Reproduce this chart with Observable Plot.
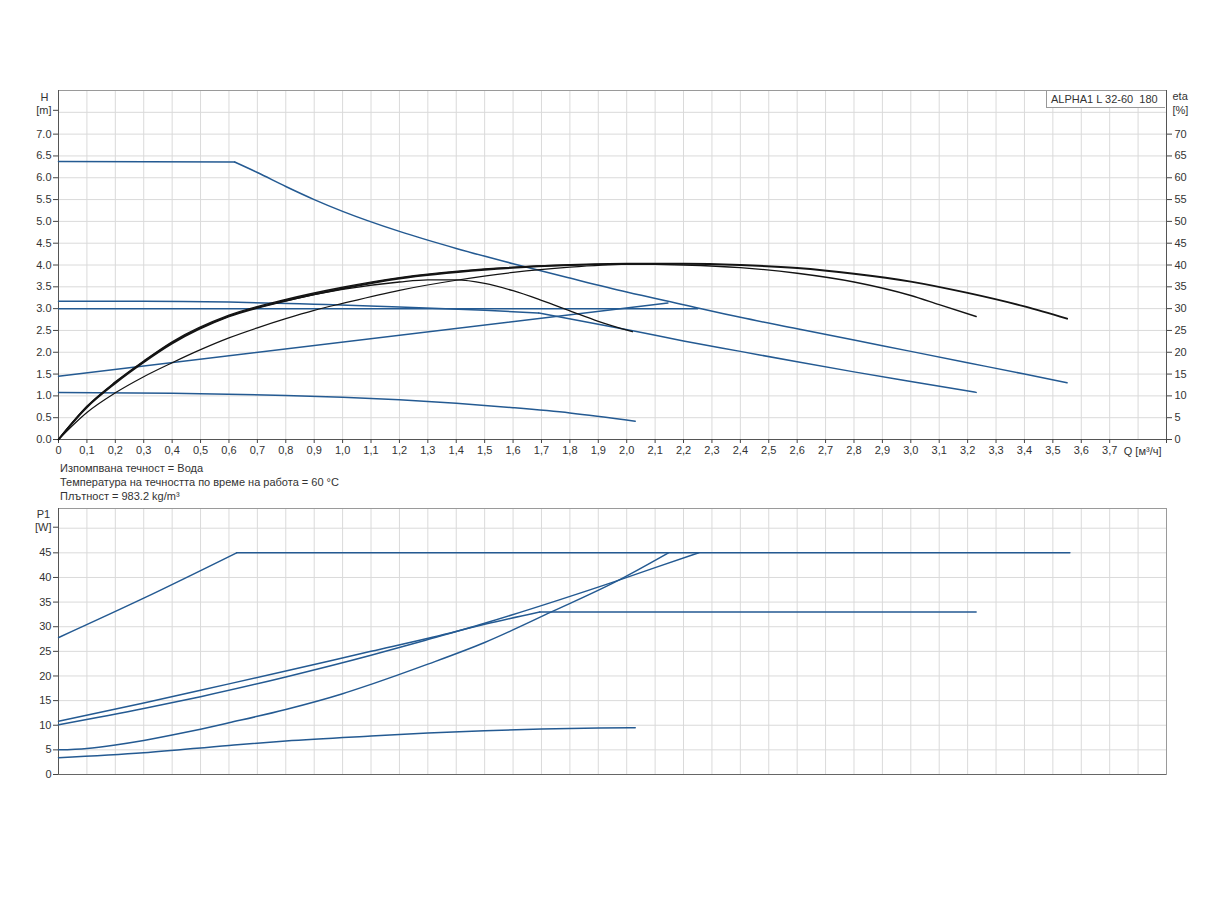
<!DOCTYPE html>
<html>
<head>
<meta charset="utf-8">
<script src="https://cdn.jsdelivr.net/npm/d3@7"></script>
<script src="https://cdn.jsdelivr.net/npm/@observablehq/plot@0.6"></script>
<style>
  html, body { margin: 0; padding: 0; background: #fff; }
  #wrap { position: relative; width: 1224px; height: 900px; font-family: "Liberation Sans", Arial, sans-serif; color: #333; }
  #top, #bottom { position: absolute; left: 0; }
  #top { top: 0; }
  #bottom { top: 490px; }
  .note { position: absolute; left: 60px; font-size: 11px; line-height: 14px; white-space: nowrap; color: #333; }
  #legend { position: absolute; left: 1046px; top: 91px; width: 119px; height: 17px; border: 1px solid #999; border-top: none; border-right: none;
            background: #fff; font-size: 11px; line-height: 16px; white-space: pre; padding-left: 4px; box-sizing: border-box; color: #333; }
</style>
</head>
<body>
<div id="wrap">
  <div id="top"></div>
  <div class="note" style="top:461px">Изпомпвана течност = Вода</div>
  <div class="note" style="top:475px">Температура на течността по време на работа = 60 °C</div>
  <div class="note" style="top:489px">Плътност = 983.2 kg/m³</div>
  <div id="bottom"></div>
  <div id="legend">ALPHA1 L 32-60  180</div>
</div>
<script>
// ---------- tick values ----------
const qTicks = [0,0.1,0.2,0.3,0.4,0.5,0.6,0.7,0.8,0.9,1.0,1.1,1.2,1.3,1.4,1.5,1.6,1.7,1.8,1.9,2.0,2.1,2.2,2.3,2.4,2.5,2.6,2.7,2.8,2.9,3.0,3.1,3.2,3.3,3.4,3.5,3.6,3.7];
const qGrid = [...qTicks, 3.8, 3.9];
const hTicks = [0,0.5,1.0,1.5,2.0,2.5,3.0,3.5,4.0,4.5,5.0,5.5,6.0,6.5,7.0];
const hGrid = [...hTicks, 7.5, 8.0];
const etaTicks = [0,5,10,15,20,25,30,35,40,45,50,55,60,65,70];
const pTicks = [0,5,10,15,20,25,30,35,40,45];
const pGrid = [...pTicks, 50];

// ---------- H(Q) curves [m] ----------
const hMaxQ = [0, 0.62, 0.7, 0.8, 0.9, 1.0, 1.2, 1.4, 1.6, 1.8, 2.0, 2.2, 2.4, 2.6, 2.8, 3.0, 3.2, 3.4, 3.55];
const hMaxH = [6.37, 6.36, 6.12, 5.8, 5.5, 5.23, 4.77, 4.38, 4.03, 3.7, 3.38, 3.09, 2.8, 2.54, 2.28, 2.02, 1.76, 1.5, 1.3];
const hCp1Q = [0, 0.3, 0.6, 0.9, 1.2, 1.5, 1.69, 2.03, 2.2, 2.4, 2.6, 2.8, 3.0, 3.23];
const hCp1H = [3.17, 3.17, 3.15, 3.1, 3.04, 2.96, 2.9, 2.48, 2.26, 2.02, 1.78, 1.55, 1.33, 1.08];
const hCp2Q = [0, 2.25];
const hCp2H = [3.0, 3.0];
const hPpQ = [0, 2.145];
const hPpH = [1.45, 3.13];
const hMinQ = [0, 0.4, 0.8, 1.0, 1.2, 1.4, 1.6, 1.8, 2.03];
const hMinH = [1.08, 1.06, 1.01, 0.97, 0.91, 0.83, 0.73, 0.61, 0.42];

// ---------- eta(Q) curves [%] ----------
const eta1Q = [0, 0.1, 0.2, 0.3, 0.4, 0.6, 0.8, 1.0, 1.2, 1.5, 1.8, 2.0, 2.2, 2.4, 2.6, 2.8, 3.0, 3.2, 3.4, 3.55];
const eta1 = [0, 7.4, 12.9, 17.7, 22.0, 28.2, 31.8, 34.6, 36.9, 38.9, 40.0, 40.3, 40.3, 40.0, 39.3, 38.0, 36.2, 33.6, 30.5, 27.7];
const eta2Q = [0, 0.1, 0.2, 0.3, 0.4, 0.6, 0.8, 1.0, 1.2, 1.5, 1.8, 2.0, 2.2, 2.4, 2.6, 2.8, 3.0, 3.1, 3.23];
const eta2 = [0, 7.6, 13.2, 18.0, 22.4, 28.5, 32.1, 34.9, 37.1, 39.1, 40.0, 40.2, 40.0, 39.4, 38.1, 36.1, 33.0, 30.9, 28.2];
const eta3Q = [0, 0.1, 0.2, 0.3, 0.4, 0.6, 0.8, 1.0, 1.2, 1.3, 1.4, 1.5, 1.6, 1.7, 1.8, 1.9, 2.02];
const eta3 = [0, 7.5, 13.1, 17.9, 22.2, 28.3, 31.8, 34.4, 36.1, 36.6, 36.6, 35.8, 34.1, 31.9, 29.5, 27.1, 24.7];
const eta4Q = [0, 0.1, 0.2, 0.3, 0.4, 0.5, 0.6, 0.7, 0.8, 0.9, 1.0, 1.2, 1.4, 1.6, 1.8, 2.0, 2.15];
const eta4 = [0, 6.2, 10.7, 14.4, 17.6, 20.6, 23.3, 25.6, 27.7, 29.6, 31.2, 34.2, 36.5, 38.3, 39.5, 40.2, 40.3];

// ---------- P1(Q) curves [W] ----------
const pMaxQ = [0, 0.3, 0.627, 3.56];
const pMax = [27.8, 35.8, 45, 45];
const pCp1Q = [0, 0.3, 0.5, 0.8, 1.1, 1.32, 1.5, 1.694, 3.23];
const pCp1 = [10.8, 14.5, 17.1, 21.0, 25.0, 27.9, 30.5, 33.0, 33.0];
const pCp2Q = [0, 0.3, 0.5, 0.8, 1.1, 1.3, 1.5, 1.76, 1.96, 2.1, 2.253];
const pCp2 = [10.1, 13.4, 15.8, 19.8, 24.2, 27.4, 30.7, 35.4, 39.2, 42.0, 45];
const pPpQ = [0, 0.1, 0.2, 0.3, 0.4, 0.5, 0.6, 0.8, 1.0, 1.1, 1.3, 1.5, 1.735, 1.96, 2.147];
const pPp = [5.0, 5.3, 6.0, 6.9, 8.0, 9.2, 10.5, 13.2, 16.4, 18.3, 22.4, 26.8, 33.0, 39.1, 45];
const pMinQ = [0, 0.3, 0.6, 0.8, 1.1, 1.3, 1.5, 1.7, 1.9, 2.03];
const pMin = [3.4, 4.4, 5.9, 6.8, 7.8, 8.4, 8.9, 9.25, 9.45, 9.5];

// ---------- helpers ----------
const pts = (qs, vs, scale = 1) => qs.map((q, i) => ({q, v: vs[i] * scale}));
const BLUE = "#245a92";
const BLACK = "#141414";
const FONT = "'Liberation Sans', Arial, sans-serif";
const qFmt = d => d === 0 ? "0" : d.toFixed(1).replace(".", ",");

function blue(data, curve = "monotone-x") {
  return Plot.line(data, {x: "q", y: "v", stroke: BLUE, strokeWidth: 1.5, curve});
}
function black(data, w = 1.3) {
  return Plot.line(data, {x: "q", y: "v", stroke: BLACK, strokeWidth: w, curve: "monotone-x"});
}

// ---------- top chart ----------
const hMax = pts(hMaxQ, hMaxH);
const hCp1 = pts(hCp1Q, hCp1H);
const topPlot = Plot.plot({
  width: 1224, height: 460,
  marginTop: 90, marginBottom: 21, marginLeft: 58, marginRight: 58,
  x: {domain: [0, 3.9], axis: null},
  y: {domain: [0, 8], axis: null},
  style: {fontFamily: FONT, fontSize: "11px", color: "#444", background: "transparent", overflow: "visible"},
  marks: [
    Plot.gridX(qGrid, {stroke: "#dadada", strokeOpacity: 1}),
    Plot.gridY(hGrid, {stroke: "#dadada", strokeOpacity: 1}),
    Plot.frame({stroke: "#9a9a9a"}),
    Plot.ruleX([0], {stroke: "#555"}),
    Plot.ruleX([3.9], {stroke: "#555"}),
    Plot.ruleY([0], {stroke: "#555"}),
    Plot.axisY(hTicks, {tickFormat: d => d.toFixed(1), tickSize: 5, tickPadding: 2, label: null, fill: "#333"}),
    Plot.axisY([7.5], {tickFormat: () => "[m]", tickSize: 5, tickPadding: 2, dy: -2, label: null, fill: "#333"}),
    Plot.text(["H"], {x: () => 0, y: () => 8, dx: -14, dy: 7, fill: "#333", fontSize: 11}),
    Plot.axisY(etaTicks.map(d => d / 10), {anchor: "right", tickFormat: d => String(Math.round(d * 10)), tickSize: 5, tickPadding: 3, label: null, fill: "#333"}),
    Plot.text(["eta"], {x: () => 3.9, y: () => 8, dx: 6, dy: 6, textAnchor: "start", fill: "#333", fontSize: 11}),
    Plot.text(["[%]"], {x: () => 3.9, y: () => 8, dx: 6, dy: 20, textAnchor: "start", fill: "#333", fontSize: 11}),
    Plot.axisX(qTicks, {tickFormat: qFmt, tickSize: 4, tickPadding: 3, label: null, fill: "#333"}),
    Plot.axisX([3.9], {tickFormat: () => "", tickSize: 4, label: null}),
    Plot.text(["Q [м³/ч]"], {x: () => 3.9, y: () => 0, dx: -5, dy: 12, textAnchor: "end", fill: "#333", fontSize: 11}),
    // H curves
    blue(hMax.slice(0, 2), "linear"),
    blue(hMax.slice(1)),
    blue(hCp1.slice(0, 7)),
    blue(hCp1.slice(6)),
    blue(pts(hCp2Q, hCp2H), "linear"),
    blue(pts(hPpQ, hPpH), "linear"),
    blue(pts(hMinQ, hMinH)),
    // eta curves (scaled to H units: 10 % = 1 m)
    black(pts(eta4Q, eta4, 0.1), 1.2),
    black(pts(eta3Q, eta3, 0.1), 1.3),
    black(pts(eta2Q, eta2, 0.1), 1.4),
    black(pts(eta1Q, eta1, 0.1), 1.9)
  ]
});
document.getElementById("top").append(topPlot);

// ---------- bottom chart ----------
const pMaxD = pts(pMaxQ, pMax);
const pCp1D = pts(pCp1Q, pCp1);
const bottomPlot = Plot.plot({
  width: 1224, height: 294,
  marginTop: 18, marginBottom: 10, marginLeft: 58, marginRight: 58,
  x: {domain: [0, 3.9], axis: null},
  y: {domain: [0, 54], axis: null},
  style: {fontFamily: FONT, fontSize: "11px", color: "#444", background: "transparent", overflow: "visible"},
  marks: [
    Plot.gridX(qGrid, {stroke: "#dadada", strokeOpacity: 1}),
    Plot.gridY(pGrid, {stroke: "#dadada", strokeOpacity: 1}),
    Plot.frame({stroke: "#9a9a9a"}),
    Plot.ruleX([0], {stroke: "#555"}),
    Plot.ruleY([0], {stroke: "#666"}),
    Plot.axisY(pTicks, {tickFormat: d => String(d), tickSize: 5, tickPadding: 2, label: null, fill: "#333"}),
    Plot.axisY([50], {tickFormat: () => "[W]", tickSize: 5, tickPadding: 2, dy: -1, label: null, fill: "#333"}),
    Plot.text(["P1"], {x: () => 0, y: () => 54, dx: -15, dy: 6, fill: "#333", fontSize: 11}),
    blue(pMaxD.slice(0, 3)),
    blue(pMaxD.slice(2), "linear"),
    blue(pCp1D.slice(0, 8)),
    blue(pCp1D.slice(7), "linear"),
    blue(pts(pCp2Q, pCp2)),
    blue(pts(pPpQ, pPp)),
    blue(pts(pMinQ, pMin))
  ]
});
document.getElementById("bottom").append(bottomPlot);
</script>
</body>
</html>
